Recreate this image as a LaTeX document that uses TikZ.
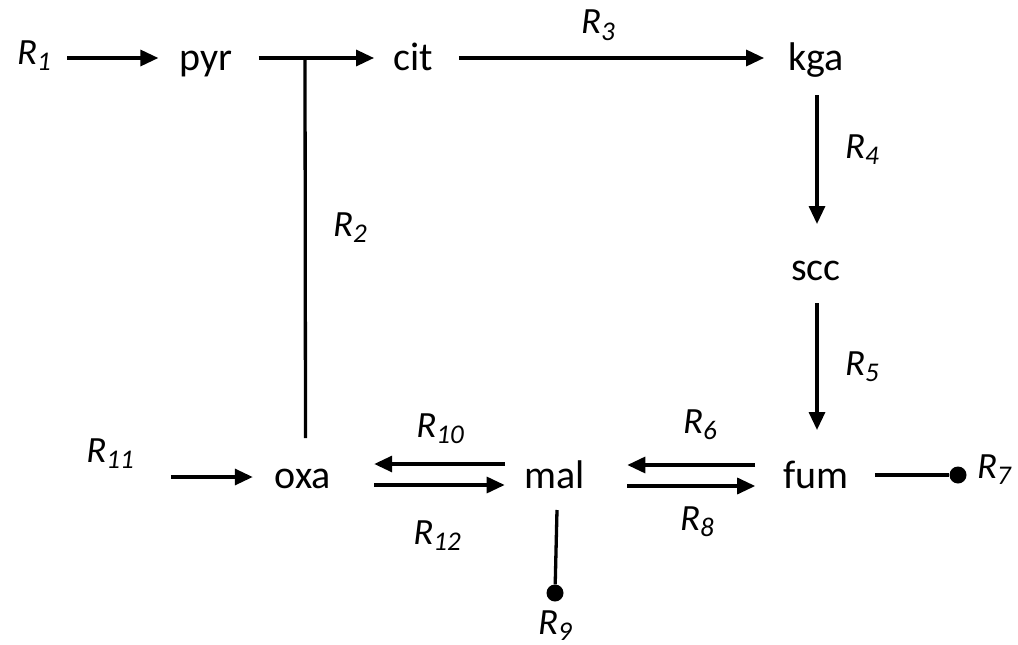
\documentclass[tikz,border=0pt]{standalone}
\usepackage{fontspec}
\setmainfont{Carlito}
\usetikzlibrary{arrows.meta}
\newcommand\Rl[1]{R\raisebox{-0.35ex}{\fontsize{27}{27}\selectfont\itshape #1}}
\begin{document}
\begin{tikzpicture}[x=1pt,y=-1pt,
 met/.style={inner sep=0pt, anchor=base, font=\fontsize{40}{42}\selectfont},
 lab/.style={inner sep=0pt, anchor=base, font=\fontsize{37}{39}\selectfont\itshape},
 arr/.style={line width=3.3pt, -{Triangle[length=18pt,width=16pt]}},
 ln/.style={line width=3.3pt},
 dot/.style={circle, fill=black, inner sep=0pt, minimum size=17pt}]
\useasboundingbox (0,0) rectangle (1018,645);
% metabolites
\node[met] (pyr) at (206,70) {pyr};
\node[met] (cit) at (413,70) {cit};
\node[met] (kga) at (816,70) {kga};
\node[met] (scc) at (816,280) {scc};
\node[met] (fum) at (816,488) {fum};
\node[met] (mal) at (555,488) {mal};
\node[met] (oxa) at (303,488) {oxa};
% labels
\node[lab] (R1) at (34,64) {\Rl{1}};
\node[lab] (R3) at (598,34) {\Rl{3}};
\node[lab] (R2) at (350,236) {\Rl{2}};
\node[lab] (R4) at (862,158) {\Rl{4}};
\node[lab] (R5) at (862,375) {\Rl{5}};
\node[lab] (R6) at (700,433) {\Rl{6}};
\node[lab] (R8) at (697,530) {\Rl{8}};
\node[lab] (R10) at (440,437) {\Rl{10}};
\node[lab] (R12) at (437,544) {\Rl{12}};
\node[lab] (R11) at (110,462) {\Rl{11}};
\node[lab] (R7) at (994,478) {\Rl{7}};
\node[lab] (R9) at (555,634) {\Rl{9}};
% dots
\node[dot] (d7) at (958,475) {};
\node[dot] (d9) at (555,593) {};
% levels
\coordinate (top) at (0,58);
\coordinate (l10) at (0,464);
\coordinate (l12) at (0,485);
\coordinate (l6) at (0,465);
\coordinate (l8) at (0,486);
\coordinate (l11) at (0,477);
\coordinate (l7) at (0,475);
\coordinate (j) at (305,58);
% connectors
\draw[arr] ([xshift=16pt]R1.east |- top) -- ([xshift=-21pt]pyr.west |- top);
\draw[arr] ([xshift=26pt]pyr.east |- top) -- ([xshift=-19pt]cit.west |- top);
\draw[arr] ([xshift=26pt]cit.east |- top) -- ([xshift=-24pt]kga.west |- top);
\draw[arr] ([yshift=-25pt,xshift=1pt]kga.base) -- ([yshift=56pt,xshift=1pt]scc.base);
\draw[arr] ([yshift=-23pt,xshift=1pt]scc.base) -- ([yshift=58pt,xshift=1pt]fum.base);
\draw[ln] ([yshift=50pt,xshift=2.5pt]oxa.base) -- (j);
\draw[arr] ([xshift=-20pt]mal.west |- l10) -- ([xshift=43pt]oxa.east |- l10);
\draw[arr] ([xshift=43pt]oxa.east |- l12) -- ([xshift=-20pt]mal.west |- l12);
\draw[arr] ([xshift=-28pt]fum.west |- l6) -- ([xshift=42pt]mal.east |- l6);
\draw[arr] ([xshift=42pt]mal.east |- l8) -- ([xshift=-28pt]fum.west |- l8);
\draw[arr] ([xshift=37pt]R11.east |- l11) -- ([xshift=-22pt]oxa.west |- l11);
\draw[ln] ([xshift=26pt]fum.east |- l7) -- (d7);
\draw[ln] ([yshift=-22pt,xshift=2pt]mal.base) -- (d9);
\end{tikzpicture}
\end{document}
